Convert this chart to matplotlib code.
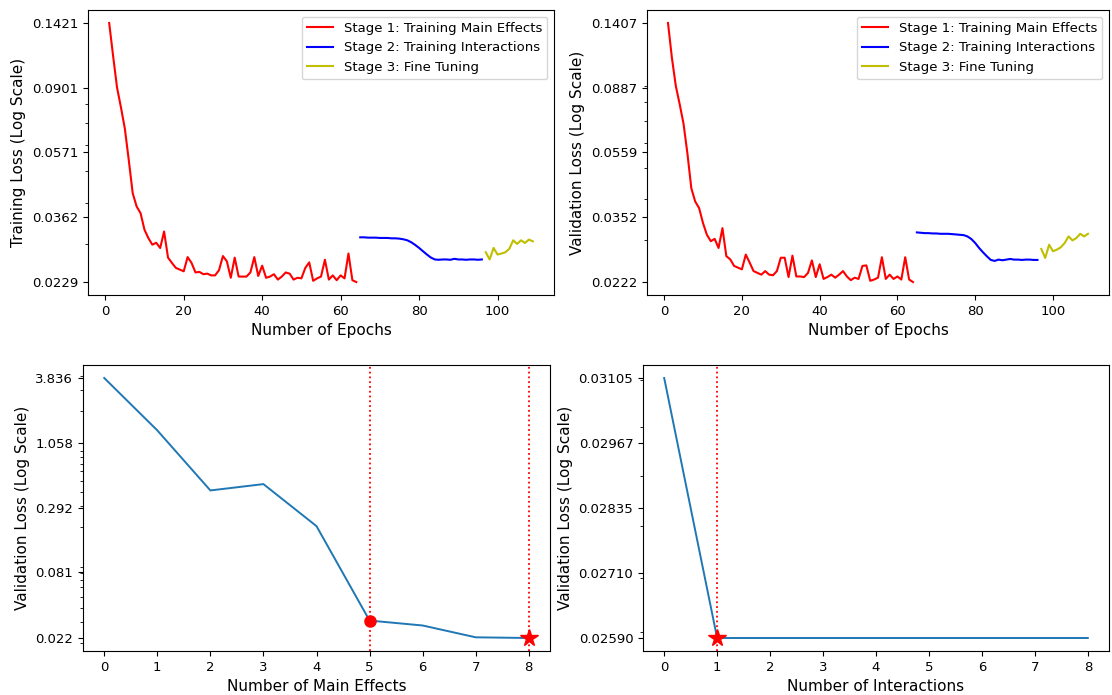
import matplotlib
matplotlib.use("Agg")
import matplotlib.pyplot as plt
from matplotlib.ticker import NullFormatter

# ---- training / validation loss per epoch, three stages ----
stage1_epochs = list(range(1, 65))
stage2_epochs = list(range(65, 97))
stage3_epochs = list(range(97, 110))

train_stage1 = [0.1421, 0.1126, 0.0902, 0.0784, 0.0674, 0.0540, 0.0428, 0.0390, 0.0372, 0.0331,
                0.0312, 0.0298, 0.0302, 0.0291, 0.0327, 0.0272, 0.0262, 0.0253, 0.0250, 0.0247,
                0.0273, 0.0262, 0.0245, 0.0246, 0.0242, 0.0243, 0.0240, 0.0240, 0.0249, 0.0275,
                0.0265, 0.0236, 0.0272, 0.0238, 0.0238, 0.0238, 0.0245, 0.0273, 0.0239, 0.0257,
                0.0236, 0.0238, 0.0242, 0.0233, 0.0238, 0.0245, 0.0243, 0.0233, 0.0236, 0.0235,
                0.0253, 0.0263, 0.0231, 0.0235, 0.0238, 0.0268, 0.0233, 0.0240, 0.0232, 0.0240,
                0.0235, 0.0280, 0.0232, 0.0229]
train_stage2 = [0.03138, 0.03138, 0.03131, 0.03131, 0.03131, 0.03124, 0.03124, 0.03124, 0.03116, 0.03116,
                0.03109, 0.03095, 0.03073, 0.03031, 0.02975, 0.02913, 0.02845, 0.02780, 0.02722, 0.02685,
                0.02679, 0.02685, 0.02685, 0.02679, 0.02697, 0.02685, 0.02685, 0.02679, 0.02685, 0.02685,
                0.02679, 0.02685]
train_stage3 = [0.02825, 0.02685, 0.02913, 0.02780, 0.02799, 0.02825, 0.02893, 0.03073, 0.02995, 0.03073,
                0.03016, 0.03088, 0.03051]

val_stage1 = [0.1407, 0.1098, 0.0899, 0.0789, 0.0685, 0.0554, 0.0433, 0.0394, 0.0376, 0.0338,
              0.0311, 0.0297, 0.0302, 0.0283, 0.0326, 0.0267, 0.0261, 0.0249, 0.0246, 0.0243,
              0.0270, 0.0255, 0.0240, 0.0237, 0.0234, 0.0240, 0.0234, 0.0233, 0.0240, 0.0264,
              0.0264, 0.0230, 0.0268, 0.0231, 0.0231, 0.0230, 0.0237, 0.0259, 0.0230, 0.0252,
              0.0227, 0.0230, 0.0234, 0.0229, 0.0234, 0.0240, 0.0231, 0.0225, 0.0229, 0.0227,
              0.0249, 0.0250, 0.0224, 0.0226, 0.0229, 0.0265, 0.0227, 0.0234, 0.0227, 0.0231,
              0.0226, 0.0265, 0.0226, 0.0222]
val_stage2 = [0.03162, 0.03154, 0.03146, 0.03146, 0.03139, 0.03139, 0.03131, 0.03131, 0.03131, 0.03124,
              0.03117, 0.03109, 0.03102, 0.03073, 0.03016, 0.02932, 0.02830, 0.02744, 0.02667, 0.02599,
              0.02581, 0.02605, 0.02593, 0.02605, 0.02617, 0.02605, 0.02605, 0.02599, 0.02605, 0.02605,
              0.02599, 0.02599]
val_stage3 = [0.02810, 0.02636, 0.02897, 0.02764, 0.02797, 0.02843, 0.02932, 0.03073, 0.02987, 0.03037,
              0.03131, 0.03073, 0.03131]

train_ticks = [0.0229, 0.0362, 0.0571, 0.0901, 0.1421]
val_ticks = [0.0222, 0.0352, 0.0559, 0.0887, 0.1407]

# ---- validation loss vs number of main effects / interactions ----
n_main = [0, 1, 2, 3, 4, 5, 6, 7, 8]
main_loss = [3.836, 1.356, 0.4117, 0.4668, 0.2027, 0.0311, 0.0282, 0.0223, 0.0220]
main_ticks = [0.022, 0.081, 0.292, 1.058, 3.836]
main_selected = 5
main_best = 8

n_inter = [0, 1, 2, 3, 4, 5, 6, 7, 8]
inter_loss = [0.03105, 0.0259, 0.0259, 0.0259, 0.0259, 0.0259, 0.0259, 0.0259, 0.0259]
inter_ticks = [0.02590, 0.02710, 0.02835, 0.02967, 0.03105]
inter_best = 1

W, H = 1112, 695
fig = plt.figure(figsize=(W / 100, H / 100), dpi=100)


def box(left, right, top, bottom):
    return [left / W, (H - bottom) / H, (right - left) / W, (bottom - top) / H]


def log_axis(ax, ticks, fmt):
    ax.set_yscale("log")
    ax.set_yticks(ticks)
    ax.set_yticklabels([fmt % t for t in ticks])
    ax.yaxis.set_minor_formatter(NullFormatter())
    ax.tick_params(labelsize=9.5)


def stage_plot(ax, s1, s2, s3, ticks, ylabel):
    ax.plot(stage1_epochs, s1, color="r", lw=1.5, label="Stage 1: Training Main Effects")
    ax.plot(stage2_epochs, s2, color="b", lw=1.5, label="Stage 2: Training Interactions")
    ax.plot(stage3_epochs, s3, color="y", lw=1.5, label="Stage 3: Fine Tuning")
    log_axis(ax, ticks, "%.4f")
    ax.set_xlabel("Number of Epochs", fontsize=11)
    ax.set_ylabel(ylabel, fontsize=11)
    ax.legend(loc="upper right", fontsize=9.5)


ax1 = fig.add_axes(box(88, 554, 10, 295))
stage_plot(ax1, train_stage1, train_stage2, train_stage3, train_ticks, "Training Loss (Log Scale)")

ax2 = fig.add_axes(box(647, 1109, 10, 295))
stage_plot(ax2, val_stage1, val_stage2, val_stage3, val_ticks, "Validation Loss (Log Scale)")

# main effects
ax3 = fig.add_axes(box(83, 550, 365, 651))
ax3.plot(n_main, main_loss, color="C0", lw=1.4)
ax3.axvline(main_selected, color="r", ls=":", lw=1.3)
ax3.axvline(main_best, color="r", ls=":", lw=1.3)
ax3.plot(main_selected, main_loss[main_selected], "o", color="r", ms=8)
ax3.plot(main_best, main_loss[main_best], "*", color="r", ms=13)
log_axis(ax3, main_ticks, "%.3f")
ax3.set_xticks(n_main)
ax3.set_xlabel("Number of Main Effects", fontsize=11)
ax3.set_ylabel("Validation Loss (Log Scale)", fontsize=11)

# interactions
ax4 = fig.add_axes(box(643, 1109, 365, 651))
ax4.plot(n_inter, inter_loss, color="C0", lw=1.4)
ax4.axvline(inter_best, color="r", ls=":", lw=1.3)
ax4.plot(inter_best, inter_loss[inter_best], "*", color="r", ms=13)
log_axis(ax4, inter_ticks, "%.5f")
ax4.set_xticks(n_inter)
ax4.set_xlabel("Number of Interactions", fontsize=11)
ax4.set_ylabel("Validation Loss (Log Scale)", fontsize=11)

fig.savefig("out.png", dpi=100)
